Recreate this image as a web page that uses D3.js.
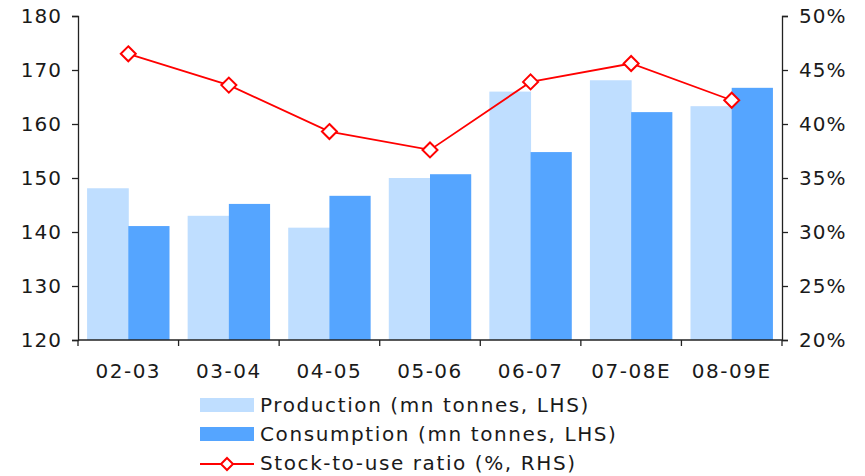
<!DOCTYPE html>
<html>
<head>
<meta charset="utf-8">
<script src="https://cdn.jsdelivr.net/npm/d3@7"></script>
<style>
  html, body { margin: 0; padding: 0; background: #fff; }
  svg { display: block; }
  text { font-family: "DejaVu Sans", Verdana, sans-serif; fill: #1a1a1a; }
</style>
</head>
<body>
<svg id="chart" width="865" height="476"></svg>
<script>
// Marketing years
const categories = ["02-03", "03-04", "04-05", "05-06", "06-07", "07-08E", "08-09E"];
// Production and consumption, mn tonnes (left axis)
const production = [148.1, 143.0, 140.8, 150.0, 166.0, 168.1, 163.3];
const consumption = [141.1, 145.2, 146.7, 150.7, 154.8, 162.2, 166.7];
// Stock-to-use ratio, % (right axis)
const stockToUse = [46.5, 43.6, 39.3, 37.6, 43.9, 45.6, 42.2];

const leftTicks = [120, 130, 140, 150, 160, 170, 180];
const rightTicks = [20, 25, 30, 35, 40, 45, 50];

const seriesNames = {
  production: "Production (mn tonnes, LHS)",
  consumption: "Consumption (mn tonnes, LHS)",
  ratio: "Stock-to-use ratio (%, RHS)"
};

const colors = { production: "#bfdeff", consumption: "#55a5ff", ratio: "#ff0000" };

const svg = d3.select("#chart");
const plot = { left: 78, right: 782, top: 16, bottom: 340 };

const x = d3.scaleBand().domain(categories).range([plot.left, plot.right]).paddingInner(0).paddingOuter(0);
const xInner = d3.scaleBand().domain(["production", "consumption"]).range([0, x.bandwidth()]).paddingInner(0).paddingOuter(0.22);
const yL = d3.scaleLinear().domain([120, 180]).range([plot.bottom, plot.top]);
const yR = d3.scaleLinear().domain([20, 50]).range([plot.bottom, plot.top]);

// Bars
const barData = categories.map((c, i) => ({ c, production: production[i], consumption: consumption[i] }));
["production", "consumption"].forEach(key => {
  svg.append("g").selectAll("rect").data(barData).join("rect")
    .attr("x", d => x(d.c) + xInner(key))
    .attr("y", d => yL(d[key]))
    .attr("width", xInner.bandwidth() + (key === "production" ? 0.5 : 0))
    .attr("height", d => yL(120) - yL(d[key]))
    .attr("fill", colors[key]);
});

// Axes
const axisColor = "#222";
const gL = svg.append("g").attr("transform", `translate(${plot.left},0)`)
  .call(d3.axisLeft(yL).tickValues(leftTicks).tickSize(6).tickPadding(10).tickFormat(d3.format("d")));
const gR = svg.append("g").attr("transform", `translate(${plot.right},0)`)
  .call(d3.axisRight(yR).tickValues(rightTicks).tickSize(6).tickPadding(11).tickFormat(d => d + "%"));
const gX = svg.append("g").attr("transform", `translate(0,${plot.bottom})`)
  .call(d3.axisBottom(x).tickSize(0).tickPadding(24));

// Category boundary ticks on the x axis
const boundaries = categories.map(c => x(c)).concat([plot.right]);
gX.selectAll("line.bound").data(boundaries).join("line")
  .attr("class", "bound")
  .attr("x1", d => d).attr("x2", d => d)
  .attr("y1", 0).attr("y2", 6)
  .attr("stroke", axisColor).attr("stroke-width", 1.3);

[gL, gR, gX].forEach(g => {
  g.select(".domain").attr("stroke", axisColor).attr("stroke-width", 1.3);
  g.selectAll(".tick line").attr("stroke", axisColor).attr("stroke-width", 1.3);
  g.selectAll("text").attr("font-size", 20).attr("fill", "#1a1a1a")
    .attr("font-family", "'DejaVu Sans', Verdana, sans-serif");
});
gL.selectAll("text").attr("letter-spacing", 1);
gR.selectAll("text").attr("letter-spacing", 1);
gX.selectAll("text").attr("letter-spacing", 1.5);
gX.select(".domain").attr("d", `M${plot.left},0H${plot.right}`);

// Stock-to-use line
const lineData = categories.map((c, i) => ({ c, v: stockToUse[i] }));
const cx = d => x(d.c) + x.bandwidth() / 2;
svg.append("path").datum(lineData)
  .attr("d", d3.line().x(cx).y(d => yR(d.v)))
  .attr("fill", "none").attr("stroke", colors.ratio).attr("stroke-width", 1.8);

const diamond = r => `M0,${-r}L${r},0L0,${r}L${-r},0Z`;
svg.append("g").selectAll("path").data(lineData).join("path")
  .attr("transform", d => `translate(${cx(d)},${yR(d.v)})`)
  .attr("d", diamond(7.5))
  .attr("fill", "#fff").attr("stroke", colors.ratio).attr("stroke-width", 2);

// Legend
const legend = svg.append("g");
const lx = 200, lw = 54, tx = 260;
legend.append("rect").attr("x", lx).attr("y", 398).attr("width", lw).attr("height", 14).attr("fill", colors.production);
legend.append("rect").attr("x", lx).attr("y", 427).attr("width", lw).attr("height", 14).attr("fill", colors.consumption);
legend.append("line").attr("x1", lx).attr("x2", lx + lw).attr("y1", 464).attr("y2", 464)
  .attr("stroke", colors.ratio).attr("stroke-width", 1.8);
legend.append("path").attr("transform", `translate(${lx + lw / 2},464)`).attr("d", diamond(6))
  .attr("fill", "#fff").attr("stroke", colors.ratio).attr("stroke-width", 2);

const legendText = [
  { t: seriesNames.production, y: 412 },
  { t: seriesNames.consumption, y: 441 },
  { t: seriesNames.ratio, y: 470 }
];
legend.selectAll("text").data(legendText).join("text")
  .attr("x", tx).attr("y", d => d.y)
  .attr("font-size", 20)
  .attr("letter-spacing", 1.6)
  .text(d => d.t);
</script>
</body>
</html>
